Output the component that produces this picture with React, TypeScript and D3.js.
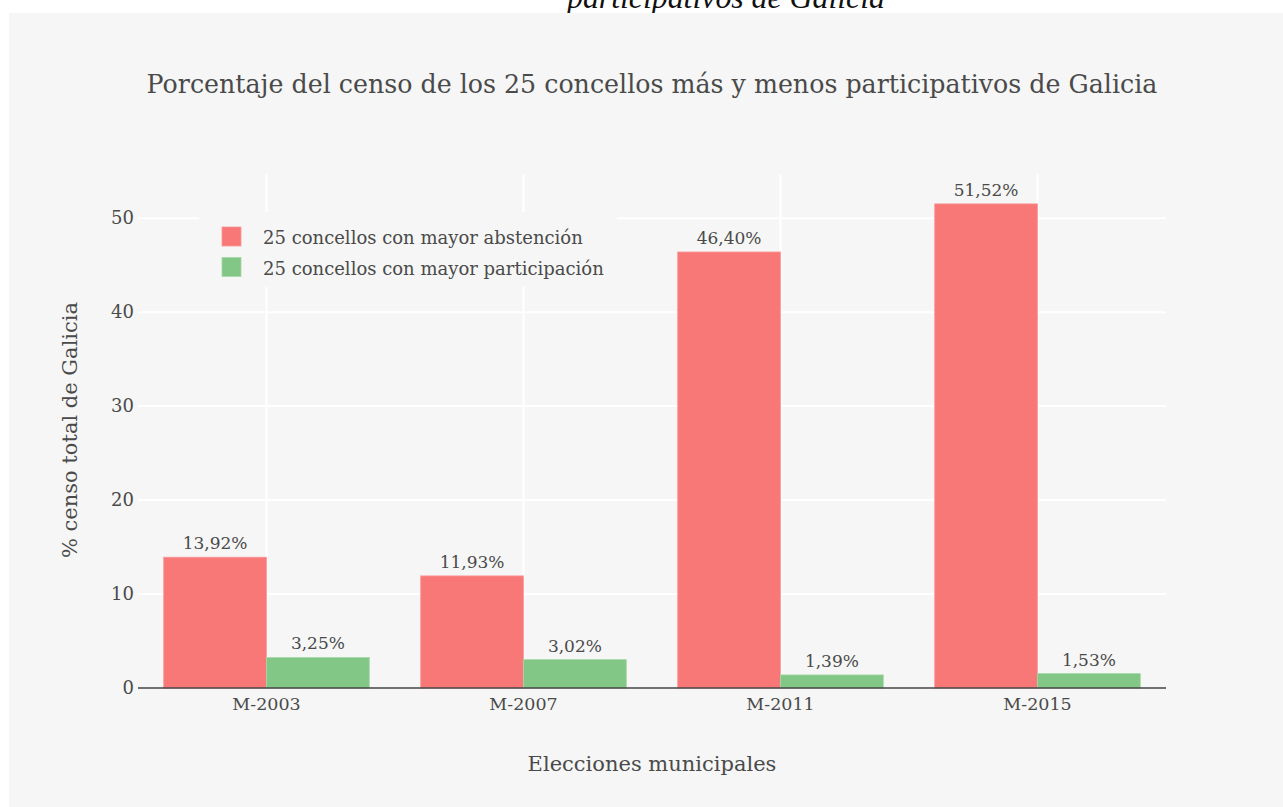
import { useEffect, useRef } from 'react';
import * as d3 from 'd3';

const elections = ['M-2003', 'M-2007', 'M-2011', 'M-2015'];
const seriesNames = ['25 concellos con mayor abstención', '25 concellos con mayor participación'];
const abstention = [13.92, 11.93, 46.4, 51.52];
const participation = [3.25, 3.02, 1.39, 1.53];
const yTicks = [0, 10, 20, 30, 40, 50];
const colors = ['#f87777', '#82c785'];

const FONT = '"DejaVu Serif", serif';
const TEXT = '#4a4a4a';
const PANEL = '#f5f6f5';

export default function App() {
    const ref = useRef<SVGSVGElement | null>(null);

    useEffect(() => {
        const svg = d3.select(ref.current);
        svg.selectAll('*').remove();

        const width = 1283;
        const height = 807;
        const m = { left: 138, right: 1166, top: 174, bottom: 688 };

        // the clipped heading of the page above the chart
        svg.append('text')
            .attr('x', 726).attr('y', 8)
            .attr('text-anchor', 'middle')
            .attr('font-family', '"Liberation Serif", serif')
            .attr('font-style', 'italic')
            .attr('font-size', 31.8)
            .attr('fill', '#111')
            .text('participativos de Galicia');

        svg.append('rect')
            .attr('x', 9).attr('y', 13)
            .attr('width', width - 9).attr('height', height - 13)
            .attr('fill', PANEL);

        const x = d3.scaleBand().domain(elections).range([m.left, m.right]).paddingInner(0.2).paddingOuter(0.1);
        const xs = d3.scaleBand().domain(['0', '1']).range([0, x.bandwidth()]);
        const y = d3.scaleLinear().domain([0, 54.7]).range([m.bottom, m.top]);

        // grid
        svg.append('g')
            .selectAll('line')
            .data(yTicks.filter(d => d > 0))
            .join('line')
            .attr('x1', m.left).attr('x2', m.right)
            .attr('y1', d => y(d)).attr('y2', d => y(d))
            .attr('stroke', '#fff').attr('stroke-width', 2);

        svg.append('g')
            .selectAll('line')
            .data(elections)
            .join('line')
            .attr('x1', d => x(d)! + x.bandwidth() / 2).attr('x2', d => x(d)! + x.bandwidth() / 2)
            .attr('y1', m.top).attr('y2', m.bottom)
            .attr('stroke', '#fff').attr('stroke-width', 2);

        // bars
        const series = [abstention, participation];
        series.forEach((vals, si) => {
            const g = svg.append('g');
            g.selectAll('rect')
                .data(vals)
                .join('rect')
                .attr('x', (d, i) => x(elections[i])! + xs(String(si))!)
                .attr('y', d => y(d))
                .attr('width', xs.bandwidth())
                .attr('height', d => y(0) - y(d))
                .attr('fill', colors[si])
                .attr('stroke', si === 0 ? '#fb9a9a' : '#a6d8a8')
                .attr('stroke-width', 0.8);

            g.selectAll('text')
                .data(vals)
                .join('text')
                .attr('x', (d, i) => x(elections[i])! + xs(String(si))! + xs.bandwidth() / 2)
                .attr('y', d => y(d) - 8)
                .attr('text-anchor', 'middle')
                .attr('font-family', FONT)
                .attr('font-size', 17)
                .attr('fill', TEXT)
                .text(d => d.toFixed(2).replace('.', ',') + '%');
        });

        // axis line
        svg.append('line')
            .attr('x1', m.left).attr('x2', m.right)
            .attr('y1', y(0)).attr('y2', y(0))
            .attr('stroke', '#444').attr('stroke-width', 1.5);

        // y tick labels
        svg.append('g')
            .selectAll('text')
            .data(yTicks)
            .join('text')
            .attr('x', 134)
            .attr('y', d => y(d) + 6)
            .attr('text-anchor', 'end')
            .attr('font-family', FONT)
            .attr('font-size', 18)
            .attr('fill', TEXT)
            .text(d => d);

        // x tick labels
        svg.append('g')
            .selectAll('text')
            .data(elections)
            .join('text')
            .attr('x', d => x(d)! + x.bandwidth() / 2)
            .attr('y', 710)
            .attr('text-anchor', 'middle')
            .attr('font-family', FONT)
            .attr('font-size', 17.5)
            .attr('fill', TEXT)
            .text(d => d);

        // axis titles
        svg.append('text')
            .attr('x', 652).attr('y', 771)
            .attr('text-anchor', 'middle')
            .attr('font-family', FONT)
            .attr('font-size', 21)
            .attr('fill', TEXT)
            .text('Elecciones municipales');

        svg.append('text')
            .attr('transform', 'translate(77,430) rotate(-90)')
            .attr('text-anchor', 'middle')
            .attr('font-family', FONT)
            .attr('font-size', 21)
            .attr('fill', TEXT)
            .text('% censo total de Galicia');

        // title
        svg.append('text')
            .attr('x', 652).attr('y', 93)
            .attr('text-anchor', 'middle')
            .attr('font-family', FONT)
            .attr('font-size', 25.3)
            .attr('fill', TEXT)
            .text('Porcentaje del censo de los 25 concellos más y menos participativos de Galicia');

        // legend
        const legend = svg.append('g');
        legend.append('rect')
            .attr('x', 199).attr('y', 212)
            .attr('width', 418).attr('height', 75)
            .attr('fill', PANEL);
        seriesNames.forEach((name, i) => {
            legend.append('rect')
                .attr('x', 222).attr('y', 227 + i * 30.5)
                .attr('width', 19).attr('height', 19)
                .attr('fill', colors[i])
                .attr('stroke', i === 0 ? '#fb9a9a' : '#a6d8a8')
                .attr('stroke-width', 0.8);
            legend.append('text')
                .attr('x', 263).attr('y', 244 + i * 30.5)
                .attr('font-family', FONT)
                .attr('font-size', 18)
                .attr('fill', TEXT)
                .text(name);
        });
    });

    return (
        <div style={{ position: 'absolute', left: 0, top: 0 }}>
            <svg ref={ref} width={1283} height={807} style={{ display: 'block' }}></svg>
        </div>
    );
}
